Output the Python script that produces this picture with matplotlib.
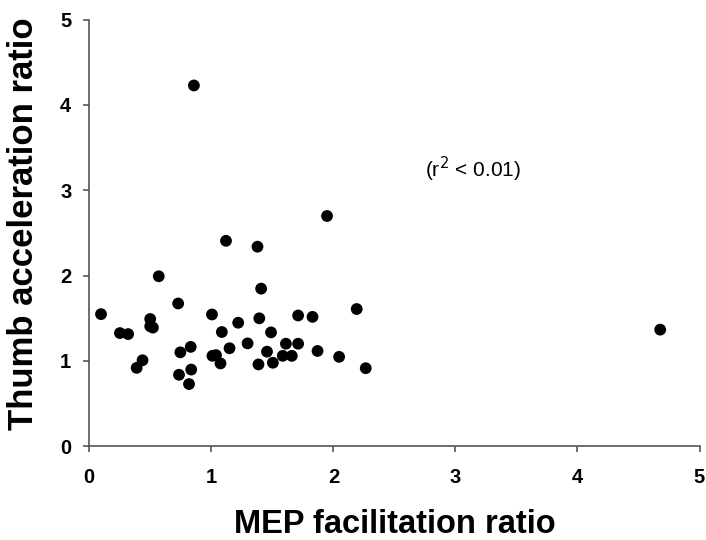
import matplotlib
matplotlib.use("Agg")
import matplotlib.pyplot as plt

mep_ratio = [0.096, 0.251, 0.318, 0.388, 0.436, 0.499, 0.499, 0.521, 0.569, 0.728,
             0.735, 0.746, 0.831, 0.817, 0.835, 0.857, 1.005, 1.009, 1.038, 1.075,
             1.086, 1.120, 1.149, 1.220, 1.297, 1.378, 1.386, 1.393, 1.408, 1.456,
             1.489, 1.504, 1.585, 1.611, 1.659, 1.711, 1.711, 1.829, 1.870, 1.948,
             2.047, 2.191, 2.265, 4.678]
thumb_ratio = [1.547, 1.325, 1.313, 0.917, 1.006, 1.490, 1.405, 1.389, 1.991, 1.672,
               0.836, 1.099, 1.163, 0.727, 0.897, 4.229, 1.543, 1.058, 1.066, 0.969,
               1.337, 2.407, 1.147, 1.446, 1.204, 2.338, 0.957, 1.498, 1.846, 1.107,
               1.333, 0.977, 1.058, 1.200, 1.058, 1.531, 1.200, 1.515, 1.115, 2.698,
               1.046, 1.607, 0.913, 1.365]
ticks = [0, 1, 2, 3, 4, 5]

plt.rcParams['font.family'] = ['Liberation Sans', 'DejaVu Sans']

fig = plt.figure(figsize=(7.06, 5.40), dpi=100)
ax = fig.add_axes([0.1265, 0.174, 0.9908 - 0.1265, 0.9635 - 0.174])
ax.scatter(mep_ratio, thumb_ratio, s=72, color='black', edgecolors='none', zorder=3)

ax.set_xlim(0, 5)
ax.set_ylim(0, 5)
ax.set_xticks(ticks)
ax.set_yticks(ticks)
ax.set_xticklabels([str(t) for t in ticks], fontsize=14.5, fontweight='bold')
ax.set_yticklabels([str(t) for t in ticks], fontsize=14.5, fontweight='bold')
for s in ['top', 'right']:
    ax.spines[s].set_visible(False)
for s in ['left', 'bottom']:
    ax.spines[s].set_color('#555555')
    ax.spines[s].set_linewidth(1.2)
ax.tick_params(direction='out', length=4, width=1.2, color='#555555')
ax.tick_params(axis='x', pad=12)
ax.tick_params(axis='y', pad=9)

ax.set_xlabel('MEP facilitation ratio', fontsize=23.5, fontweight='bold', labelpad=16)
ax.set_ylabel('Thumb acceleration ratio', fontsize=25, fontweight='bold')
ax.yaxis.set_label_coords(-0.081, 0.521)

ax.text(2.75, 3.25, r'(r$^2$ < 0.01)', fontsize=15, va='center', ha='left')

fig.savefig('out.png', dpi=100)
